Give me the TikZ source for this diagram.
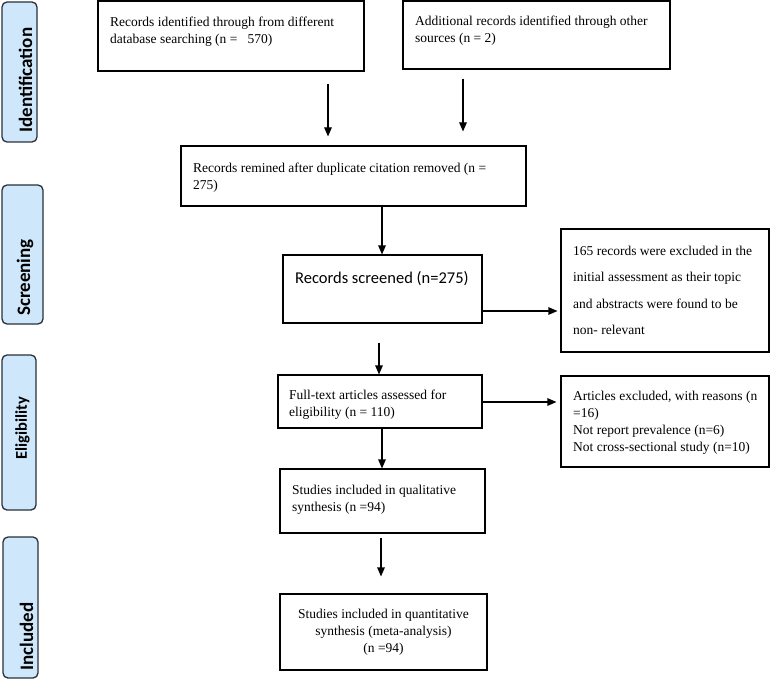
\documentclass[tikz,border=0pt]{standalone}
\usepackage{fontspec}
\setmainfont{Liberation Serif}
\newfontfamily\carlito{Carlito}
\usetikzlibrary{arrows.meta}
\definecolor{lblfill}{RGB}{207,231,250}
\definecolor{lbldraw}{RGB}{40,48,58}
\begin{document}
\begin{tikzpicture}[x=1pt,y=-1pt,
  box/.style={draw=black, line width=1.1pt, inner sep=0pt, rectangle},
  txt/.style={inner sep=0pt, align=left, anchor=north west, font=\fontsize{13.5}{17}\selectfont},
  lbl/.style={draw=lbldraw, fill=lblfill, rounded corners=5pt, line width=1.3pt, inner sep=0pt},
  lbltxt/.style={rotate=90, anchor=base west, inner sep=0pt, font=\carlito\bfseries\fontsize{19}{22}\selectfont},
  arr/.style={line width=1.1pt, -{Triangle[length=9pt,width=7.5pt]}}]
\useasboundingbox (0,0) rectangle (778,679);

% side labels
\node[lbl, minimum width=35pt, minimum height=140pt] (l1) at (19.5,72) {};
\node[lbl, minimum width=41pt, minimum height=139pt] (l2) at (22.5,254.5) {};
\node[lbl, minimum width=34pt, minimum height=155pt] (l3) at (19,432.5) {};
\node[lbl, minimum width=35pt, minimum height=141pt] (l4) at (20.5,607.5) {};
\node[lbltxt] (l1t) at (32,133) {Identification};
\node[lbltxt] (l2t) at (30,316) {Screening};
\node[lbltxt, font=\carlito\bfseries\fontsize{16.5}{19}\selectfont] (l3t) at (27,460) {Eligibility};
\node[lbltxt] (l4t) at (33,671) {Included};

% boxes
\node[box, minimum width=266pt, minimum height=70pt] (b1) at (231,36) {};
\node[box, minimum width=267pt, minimum height=68pt] (b2) at (536.5,35) {};
\node[box, minimum width=345pt, minimum height=60pt] (b3) at (353.5,176) {};
\node[box, minimum width=199pt, minimum height=68pt] (b4) at (382.5,289) {};
\node[box, minimum width=208pt, minimum height=123pt] (b5) at (665,290.5) {};
\node[box, minimum width=204pt, minimum height=53pt] (b6) at (380,401.5) {};
\node[box, minimum width=208pt, minimum height=91pt] (b7) at (665,421.5) {};
\node[box, minimum width=205pt, minimum height=64pt] (b8) at (382.5,501) {};
\node[box, minimum width=207pt, minimum height=76pt] (b9) at (383.5,632) {};

% texts
\node[txt] (t1) at (110,16.5) {Records identified through from different\\database searching (n =~~~570)};
\node[txt] (t2) at (415,15.5) {Additional records identified through other\\sources (n = 2)};
\node[txt] (t3) at (193,162.5) {Records remined after duplicate citation removed (n =\\275)};
\node[inner sep=0pt, anchor=base west, font=\carlito\fontsize{16.5}{20}\selectfont] (t4) at (295,283) {Records screened (n=275)};
\node[txt, font=\fontsize{13.5}{26.5}\selectfont] (t5) at (573,245.5) {165 records were excluded in the\\initial assessment as their topic\\and abstracts were found to be\\non- relevant};
\node[txt] (t6) at (289,390) {Full-text articles assessed for\\eligibility (n = 110)};
\node[txt] (t7) at (573,391) {Articles excluded, with reasons (n\\=16)\\Not report prevalence (n=6)\\Not cross-sectional study (n=10)};
\node[txt] (t8) at (292,485) {Studies included in qualitative\\synthesis (n =94)};
\node[txt, align=center, anchor=north] (t9) at (383.5,609) {Studies included in quantitative\\synthesis (meta-analysis)\\(n =94)};

% helper coordinates
\coordinate (c1) at (328,0);
\coordinate (c2) at (463,0);
\coordinate (c3) at (382,0);
\coordinate (c4) at (0,311);
\coordinate (c5) at (379,0);
\coordinate (c6) at (0,402);
\coordinate (c7) at (382,0);
\coordinate (c8) at (381,0);

% arrows
\draw[arr, shorten <=12pt, shorten >=9pt] (b1.south -| c1) -- (b3.north -| c1);
\draw[arr, shorten <=9pt, shorten >=14pt] (b2.south -| c2) -- (b3.north -| c2);
\draw[arr] (b3.south -| c3) -- (b4.north -| c3);
\draw[arr, shorten >=3pt] (b4.east |- c4) -- (b5.west |- c4);
\draw[arr, shorten <=19pt] (b4.south -| c5) -- (b6.north -| c5);
\draw[arr, shorten >=4pt] (b6.east |- c6) -- (b7.west |- c6);
\draw[arr] (b6.south -| c7) -- (b8.north -| c7);
\draw[arr, shorten <=4pt, shorten >=17pt] (b8.south -| c8) -- (b9.north -| c8);
\end{tikzpicture}
\end{document}
